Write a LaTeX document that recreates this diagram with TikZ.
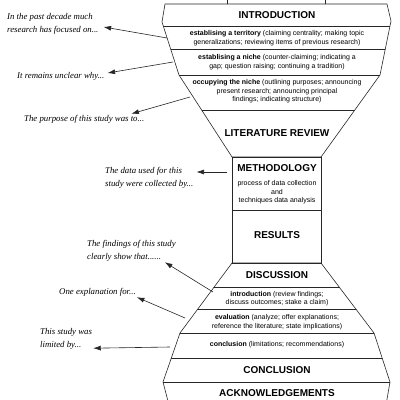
\documentclass[tikz,border=0pt]{standalone}
\usepackage{fontspec}
\setsansfont{Liberation Sans}
\newfontfamily\notefont{Liberation Serif}
\usetikzlibrary{arrows.meta,calc}

\begin{document}
\begin{tikzpicture}[x=1pt,y=-1pt,>={Latex[length=7.5pt,width=5pt]},
  hdtitle/.style={font=\sffamily\bfseries\fontsize{10}{12}\selectfont},
  rowtext/.style={align=center,inner sep=1pt,font=\sffamily\fontsize{7}{8.5}\selectfont},
  sidenote/.style={anchor=west,align=left,inner sep=1pt,font=\notefont\itshape\fontsize{8.8}{13}\selectfont},
  funnelline/.style={draw=black!85,line width=0.6pt}]
\useasboundingbox (0,0) rectangle (400,400);
% top funnel
\begin{scope}
\clip (165,4) -- (162,22) -- (179,75) -- (232,157) -- (321,157) -- (380,75) -- (391,21) -- (387,4) -- cycle;
\foreach \y in {26,49,75,110} \draw[funnelline] (150,\y) -- (400,\y);
\end{scope}
\draw[funnelline] (165,4) -- (162,22) -- (179,75) -- (232,157) -- (321,157) -- (380,75) -- (391,21) -- (387,4) -- cycle;
\draw[funnelline] (227,0) -- (227,4) (325,0) -- (325,4);
% middle box
\draw[funnelline] (232,157) rectangle (321,263);
\draw[funnelline] (232,210) -- (321,210);
% bottom funnel
\begin{scope}
\clip (232,263) -- (180,333) -- (163,382) -- (169,405) -- (386,405) -- (390,382) -- (374,333) -- (321,263) -- cycle;
\foreach \y in {287,309,333,358,382} \draw[funnelline] (150,\y) -- (400,\y);
\end{scope}
\draw[funnelline] (232,263) -- (180,333) -- (163,382) -- (169,405) -- (386,405) -- (390,382) -- (374,333) -- (321,263) -- cycle;

\node[hdtitle] (intro) at (277,15) {INTRODUCTION};
\node[rowtext] (territory) at (277,38) {{\bfseries establising a territory} (claiming centrality; making topic\\generalizations; reviewing items of previous research)};
\node[rowtext] (niche) at (277,62) {{\bfseries establising a niche} (counter-claiming; indicating a\\gap; question raising; continuing a tradition)};
\node[rowtext] (occupy) at (277,91.5) {{\bfseries occupying the niche} (outlining purposes; announcing\\present research; announcing principal\\findings; indicating structure)};
\node[hdtitle] (litrev) at (277,133) {LITERATURE REVIEW};
\node[hdtitle] (method) at (277,168) {METHODOLOGY};
\node[rowtext] (process) at (277,192.5) {process of data collection\\and\\techniques data analysis};
\node[hdtitle] (results) at (277,235) {RESULTS};
\node[hdtitle] (discuss) at (277,275) {DISCUSSION};
\node[rowtext] (dintro) at (277,298.5) {{\bfseries introduction} (review findings;\\discuss outcomes; stake a claim)};
\node[rowtext] (evaluation) at (277,322) {{\bfseries evaluation} (analyze; offer explanations;\\reference the literature; state implications)};
\node[rowtext] (dconcl) at (277,345) {{\bfseries conclusion} (limitations; recommendations)};
\node[hdtitle] (concl) at (277,370) {CONCLUSION};
\node[hdtitle] (ack) at (277,393) {ACKNOWLEDGEMENTS};

% side notes
\node[sidenote] (notepast) at (6,24) {In the past decade much\\research has focused on...};
\node[sidenote] (noteunclear) at (16,76) {It remains unclear why...};
\node[sidenote] (notepurpose) at (23,119) {The purpose of this study was to...};
\node[sidenote] (notedata) at (104,177.5) {The data used for this\\study were collected by...};
\node[sidenote] (notefind) at (86,250.5) {The findings of this study\\clearly show that......};
\node[sidenote] (noteexpl) at (58,292) {One explanation for...};
\node[sidenote] (notelimit) at (39,338.5) {This study was\\limited by...};

\coordinate (s1) at (167,38); \coordinate (s2) at (173,62); \coordinate (s3) at (190,97);
\coordinate (s4) at (227,172); \coordinate (s5) at (213,292); \coordinate (s6) at (185,318);
\coordinate (s7) at (170,347);
\draw[->,funnelline] (s1) -- ([xshift=4pt,yshift=-3pt]notepast.east);
\draw[->,funnelline] (s2) -- ([xshift=2pt,yshift=3pt]noteunclear.east);
\draw[->,funnelline] (s3) -- ([xshift=-14pt]notepurpose.north east);
\draw[->,funnelline] (s4) -- ([xshift=2pt,yshift=5.5pt]notedata.east);
\draw[->,funnelline] (s5) -- ([xshift=-12pt]notefind.south east);
\draw[->,funnelline] (s6) -- (noteexpl.south east);
\draw[->,funnelline] (s7) -- ([yshift=2pt]notelimit.south east);
\end{tikzpicture}
\end{document}
